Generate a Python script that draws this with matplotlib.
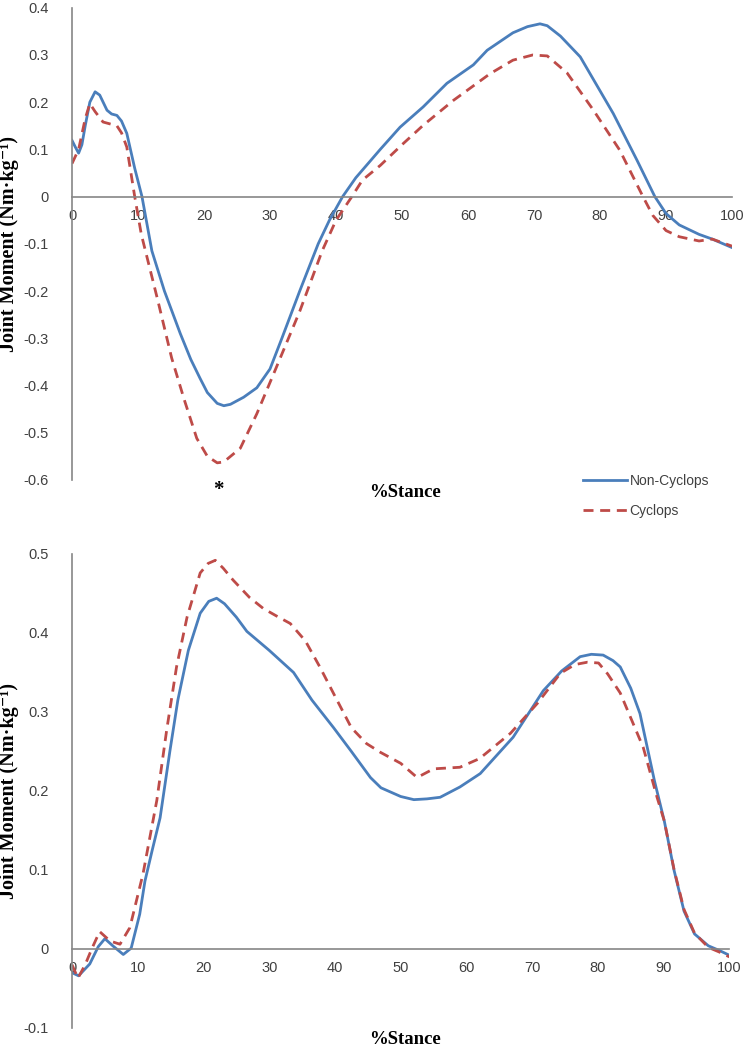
import matplotlib

matplotlib.use("Agg")
import matplotlib.pyplot as plt
from matplotlib.lines import Line2D

# --- top panel data (%stance vs joint moment) ---
top_x_non = [0, 0.5, 1, 1.5, 2, 2.7, 3.5, 4.2, 5.3, 6, 6.8, 7.5, 8.3, 9.5, 10.6, 12.1, 14,
             16.4, 18, 19.4, 20.5, 22, 23, 24, 26, 28, 30, 31.8, 34.5, 37.3, 39, 41, 43,
             46.7, 49.7, 53.2, 56.8, 60.8, 62.9, 66.8, 69, 70.9, 72, 74, 77, 80, 82, 85.6,
             88.3, 90, 92, 95, 97, 100]
top_y_non = [0.119, 0.105, 0.092, 0.11, 0.15, 0.2, 0.222, 0.215, 0.183, 0.175, 0.172, 0.16,
             0.134, 0.06, 0.0, -0.115, -0.2, -0.29, -0.345, -0.385, -0.415, -0.438, -0.443,
             -0.44, -0.425, -0.405, -0.365, -0.3, -0.2, -0.1, -0.05, 0.0, 0.04, 0.1, 0.147,
             0.19, 0.24, 0.279, 0.31, 0.347, 0.36, 0.366, 0.362, 0.34, 0.296, 0.224, 0.176,
             0.077, 0.0, -0.036, -0.06, -0.08, -0.09, -0.108]
top_x_cyc = [0, 1, 2, 2.7, 3.5, 4.7, 6.8, 7.5, 8.3, 9.5, 10.5, 11.5, 13, 15.1, 17, 18.9,
             20.5, 22, 23, 25.5, 28, 30.5, 34.5, 37.9, 40, 42.4, 44, 46.7, 50, 53.2, 57.8,
             63.3, 66.8, 69.8, 72, 75, 79, 83, 86.5, 88, 90, 92, 95, 97, 100]
top_y_cyc = [0.07, 0.1, 0.165, 0.197, 0.18, 0.158, 0.15, 0.135, 0.105, 0.0, -0.08, -0.136,
             -0.22, -0.342, -0.43, -0.512, -0.55, -0.564, -0.562, -0.533, -0.46, -0.377,
             -0.243, -0.115, -0.05, 0.0, 0.035, 0.066, 0.11, 0.151, 0.204, 0.26, 0.289, 0.3,
             0.298, 0.262, 0.183, 0.098, 0.0, -0.04, -0.072, -0.085, -0.094, -0.09, -0.105]

# --- bottom panel data ---
bot_x_non = [0, 1, 2.7, 4, 5, 6.2, 7.8, 9, 10.3, 11.1, 12.2, 13.4, 14.9, 16.1, 17.7, 19.5,
             20.8, 22, 23.2, 25, 26.6, 30, 33.7, 36.5, 39.8, 42.5, 45.4, 47, 50, 52, 54, 56,
             59, 62.1, 67.1, 71.7, 74.5, 77.3, 79, 80.8, 82.3, 83.4, 85, 86.4, 88.6, 90.1,
             91.6, 93.1, 94.7, 96.8, 98.5, 100]
bot_y_non = [-0.03, -0.034, -0.019, 0.003, 0.013, 0.004, -0.007, 0.001, 0.044, 0.086, 0.125,
             0.166, 0.251, 0.315, 0.378, 0.425, 0.44, 0.444, 0.437, 0.42, 0.402, 0.378, 0.35,
             0.315, 0.28, 0.25, 0.217, 0.204, 0.193, 0.189, 0.19, 0.192, 0.205, 0.222,
             0.268, 0.327, 0.352, 0.37, 0.373, 0.372, 0.365, 0.357, 0.33, 0.298, 0.213,
             0.162, 0.099, 0.048, 0.019, 0.004, -0.002, -0.008]
bot_x_cyc = [0, 0.9, 2, 3, 4.2, 5.8, 7.3, 8.8, 9.8, 10.8, 12.9, 14.4, 15.9, 17.5, 19.5, 20.7,
             21.8, 23, 24.5, 27, 29.1, 31, 33.2, 35.5, 37.7, 40, 42.5, 44.8, 46.9, 50, 52.5,
             55, 59, 62, 66.7, 70.8, 74.3, 76.5, 78.4, 80.1, 81.5, 83.4, 86.9, 89, 90.1,
             91.6, 93.1, 94.7, 96.8, 98.5, 100]
bot_y_cyc = [-0.02, -0.037, -0.02, 0.0, 0.022, 0.01, 0.006, 0.027, 0.061, 0.095, 0.188,
             0.277, 0.357, 0.42, 0.476, 0.488, 0.492, 0.482, 0.467, 0.445, 0.431, 0.422,
             0.412, 0.39, 0.357, 0.32, 0.28, 0.26, 0.249, 0.235, 0.217, 0.228, 0.23, 0.241,
             0.273, 0.311, 0.349, 0.36, 0.363, 0.362, 0.348, 0.324, 0.255, 0.192, 0.162,
             0.1, 0.05, 0.02, 0.002, -0.004, -0.01]

top_yticks = [-0.6, -0.5, -0.4, -0.3, -0.2, -0.1, 0, 0.1, 0.2, 0.3, 0.4]
bot_yticks = [-0.1, 0, 0.1, 0.2, 0.3, 0.4, 0.5]
xticks = [0, 10, 20, 30, 40, 50, 60, 70, 80, 90, 100]

BLUE = "#4A7EBB"
RED = "#BE4B48"
AXC = "#868686"
TXT = "#404040"
DASH = (0, (3.6, 2.4))
SANS = ["Liberation Sans", "DejaVu Sans"]
SERIF = ["Liberation Serif", "DejaVu Serif"]


def fmt(v):
    return "0" if v == 0 else ("%g" % v)


def style_axes(ax, yticks, ylim):
    ax.set_xlim(0, 100)
    ax.set_ylim(*ylim)
    for s in ("top", "right"):
        ax.spines[s].set_visible(False)
    ax.spines["bottom"].set_position(("data", 0))
    for s in ("bottom", "left"):
        ax.spines[s].set_color(AXC)
        ax.spines[s].set_linewidth(1.2)
    ax.set_xticks(xticks)
    ax.set_xticklabels([str(t) for t in xticks], family=SANS, fontsize=10.5, color=TXT)
    ax.set_yticks(yticks)
    ax.set_yticklabels([fmt(t) for t in yticks], family=SANS, fontsize=10.5, color=TXT)
    ax.tick_params(axis="both", length=0)
    ax.tick_params(axis="x", pad=9)
    ax.tick_params(axis="y", pad=17)
    ax.set_ylabel("Joint Moment (Nm·kg⁻¹)", family=SERIF, fontweight="bold", fontsize=14.5)
    ax.yaxis.set_label_coords(-0.08, 0.5)


fig = plt.figure(figsize=(7.47, 10.5), dpi=100)
ax1 = fig.add_axes([0.0964, 0.543, 0.8836, 0.4496])
ax2 = fig.add_axes([0.0964, 0.021, 0.88, 0.4514])

ax1.plot(top_x_non, top_y_non, color=BLUE, lw=2.0, solid_joinstyle="round")
ax1.plot(top_x_cyc, top_y_cyc, color=RED, lw=2.0, ls=DASH)
style_axes(ax1, top_yticks, (-0.6, 0.4))

ax2.plot(bot_x_non, bot_y_non, color=BLUE, lw=2.0, solid_joinstyle="round")
ax2.plot(bot_x_cyc, bot_y_cyc, color=RED, lw=2.0, ls=DASH)
style_axes(ax2, bot_yticks, (-0.1, 0.5))

fig.text(405 / 747, 1 - 493 / 1050, "%Stance", family=SERIF, fontweight="bold",
         fontsize=13.5, ha="center", va="center")
fig.text(405 / 747, 1 - 1040 / 1050, "%Stance", family=SERIF, fontweight="bold",
         fontsize=13.5, ha="center", va="center")
fig.text(218 / 747, 1 - 490 / 1050, "*", family=SERIF, fontweight="bold",
         fontsize=15, ha="center", va="center")

handles = [Line2D([], [], color=BLUE, lw=2.0),
           Line2D([], [], color=RED, lw=2.0, ls=DASH)]
fig.legend(handles, ["Non-Cyclops", "Cyclops"], loc="center left",
           bbox_to_anchor=(570 / 747, 1 - 496 / 1050), frameon=False,
           prop={"family": SANS, "size": 10}, handlelength=3.2, handletextpad=0.2,
           labelspacing=1.2, labelcolor=TXT)

fig.savefig("out.png", dpi=100)
